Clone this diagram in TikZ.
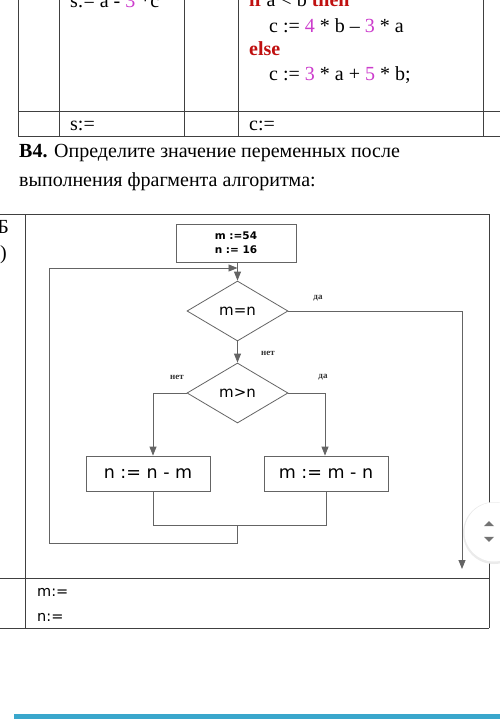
\documentclass[tikz,border=0pt]{standalone}
\usepackage{fontspec}
\setmainfont{Liberation Serif}
\newfontfamily\flowfont{DejaVu Sans}
\usetikzlibrary{shapes.geometric,arrows.meta}
\definecolor{kwred}{RGB}{192,16,16}
\definecolor{nummag}{RGB}{204,60,204}
\definecolor{barblue}{RGB}{58,167,204}
\definecolor{flowgray}{RGB}{100,100,100}
\tikzset{
  tabline/.style={draw=black!75, line width=0.9pt},
  fline/.style={draw=flowgray, line width=0.8pt},
  farrow/.style={fline, -{Triangle[length=9pt,width=7pt]}},
  procbox/.style={draw=flowgray, line width=0.8pt, minimum width=124pt, minimum height=35pt, inner sep=0pt, font=\flowfont\fontsize{17.5}{19}\selectfont},
  startbox/.style={draw=flowgray, line width=0.8pt, minimum width=120pt, minimum height=38pt, inner sep=0pt, align=center, font=\flowfont\bfseries\fontsize{10.5}{14}\selectfont},
  decision/.style={draw=flowgray, line width=0.8pt, shape=diamond, minimum width=101pt, minimum height=60pt, inner sep=0pt, font=\flowfont\fontsize{15}{17}\selectfont},
  flab/.style={font=\bfseries\fontsize{9}{10}\selectfont, text=black!80, inner sep=0pt},
  toptext/.style={anchor=base west, inner sep=0pt, font=\fontsize{20}{22}\selectfont},
  anstext/.style={anchor=base west, inner sep=0pt, font=\flowfont\fontsize{14.5}{16}\selectfont}
}
\begin{document}
\begin{tikzpicture}[x=1pt,y=-1pt]
\useasboundingbox (0,0) rectangle (500,725);
\clip (0,0) rectangle (500,725);
\fill[white] (0,0) rectangle (500,725);
% ---------- top table ----------
\foreach \xx in {18,59,184,238,483} \draw[tabline] (\xx,-5) -- (\xx,136);
\draw[tabline] (18,111) -- (505,111);
\draw[tabline] (18,136) -- (505,136);
\node[toptext] (t1) at (70,8) {s:= a - \textcolor{nummag}{3} *c};
\node[toptext] (t2) at (249,7) {\textcolor{kwred}{\textbf{if}} a < b \textcolor{kwred}{\textbf{then}}};
\node[toptext] (t3) at (269,33) {c := \textcolor{nummag}{4} * b – \textcolor{nummag}{3} * a};
\node[toptext] (t4) at (249,56) {\textcolor{kwred}{\textbf{else}}};
\node[toptext] (t5) at (269,81) {c := \textcolor{nummag}{3} * a + \textcolor{nummag}{5} * b;};
\node[toptext] (t6) at (70,130) {s:=};
\node[toptext] (t7) at (249,130) {c:=};
% ---------- task text ----------
\node[toptext] (q1) at (19,157) {\textbf{В4.} Определите значение переменных после};
\node[toptext] (q2) at (19,186) {выполнения фрагмента алгоритма:};
% ---------- second table ----------
\draw[tabline] (0,214) -- (489,214);
\draw[tabline] (25,214) -- (25,628);
\draw[tabline] (489,214) -- (489,628);
\draw[tabline] (0,578) -- (489,578);
\draw[tabline] (0,628) -- (489,628);
\node[anchor=base east, inner sep=0pt, font=\fontsize{20}{22}\selectfont] (lb1) at (9,233) {Б};
\node[anchor=base east, inner sep=0pt, font=\fontsize{20}{22}\selectfont] (lb2) at (7,259) {)};
\node[anstext] (a1) at (37,596) {m:=};
\node[anstext] (a2) at (37,621) {n:=};
% ---------- flowchart ----------
\node[startbox] (st) at (236,243) {m :=54\\n := 16};
\node[decision] (d1) at (237.5,311) {m=n};
\node[decision] (d2) at (237.5,393) {m>n};
\node[procbox] (bl) at (148,473.5) {n := n - m};
\node[procbox] (br) at (326,473.5) {m := m - n};
\coordinate (entry) at (237.5,268);
\coordinate (ltl) at (49,268);
\coordinate (lbl) at (49,543);
\coordinate (lb) at (237.5,543);
\coordinate (mc) at (237.5,525);
\coordinate (ml) at (153,525);
\coordinate (mr) at (326,525);
\coordinate (exitc) at (462,311);
\coordinate (exitt) at (462,569);
\coordinate (nl) at (153,393);
\coordinate (nr) at (325,393);
\draw[fline] (st.south -| entry) -- (entry);
\draw[farrow] (entry) -- (d1.north);
\draw[farrow] (d1.south) -- (d2.north);
\draw[farrow] (d2.west) -- (nl) -- (bl.north -| nl);
\draw[farrow] (d2.east) -- (nr) -- (br.north -| nr);
\draw[fline] (bl.south -| ml) -- (ml) -- (mr) -- (br.south -| mr);
\draw[farrow] (mc) -- (lb) -- (lbl) -- (ltl) -- (entry);
\draw[farrow] (d1.east) -- (exitc) -- (exitt);
\node[flab] (l1) at (318,298) {да};
\node[flab] (l2) at (268,353) {нет};
\node[flab] (l3) at (177,377) {нет};
\node[flab] (l4) at (323,377) {да};
% ---------- scroll button ----------
\fill[black!8] (494,533) circle (31);
\fill[white] (494,532) circle (29.5);
\node[draw=none, fill=black!55, shape=isosceles triangle, shape border rotate=90, isosceles triangle apex angle=90, minimum width=10pt, minimum height=5pt, inner sep=0pt] (up) at (489,524) {};
\node[draw=none, fill=black!55, shape=isosceles triangle, shape border rotate=-90, isosceles triangle apex angle=90, minimum width=10pt, minimum height=5pt, inner sep=0pt] (dn) at (489,539) {};
% ---------- bottom bar ----------
\fill[barblue] (14,714) rectangle (505,719);
\end{tikzpicture}
\end{document}
